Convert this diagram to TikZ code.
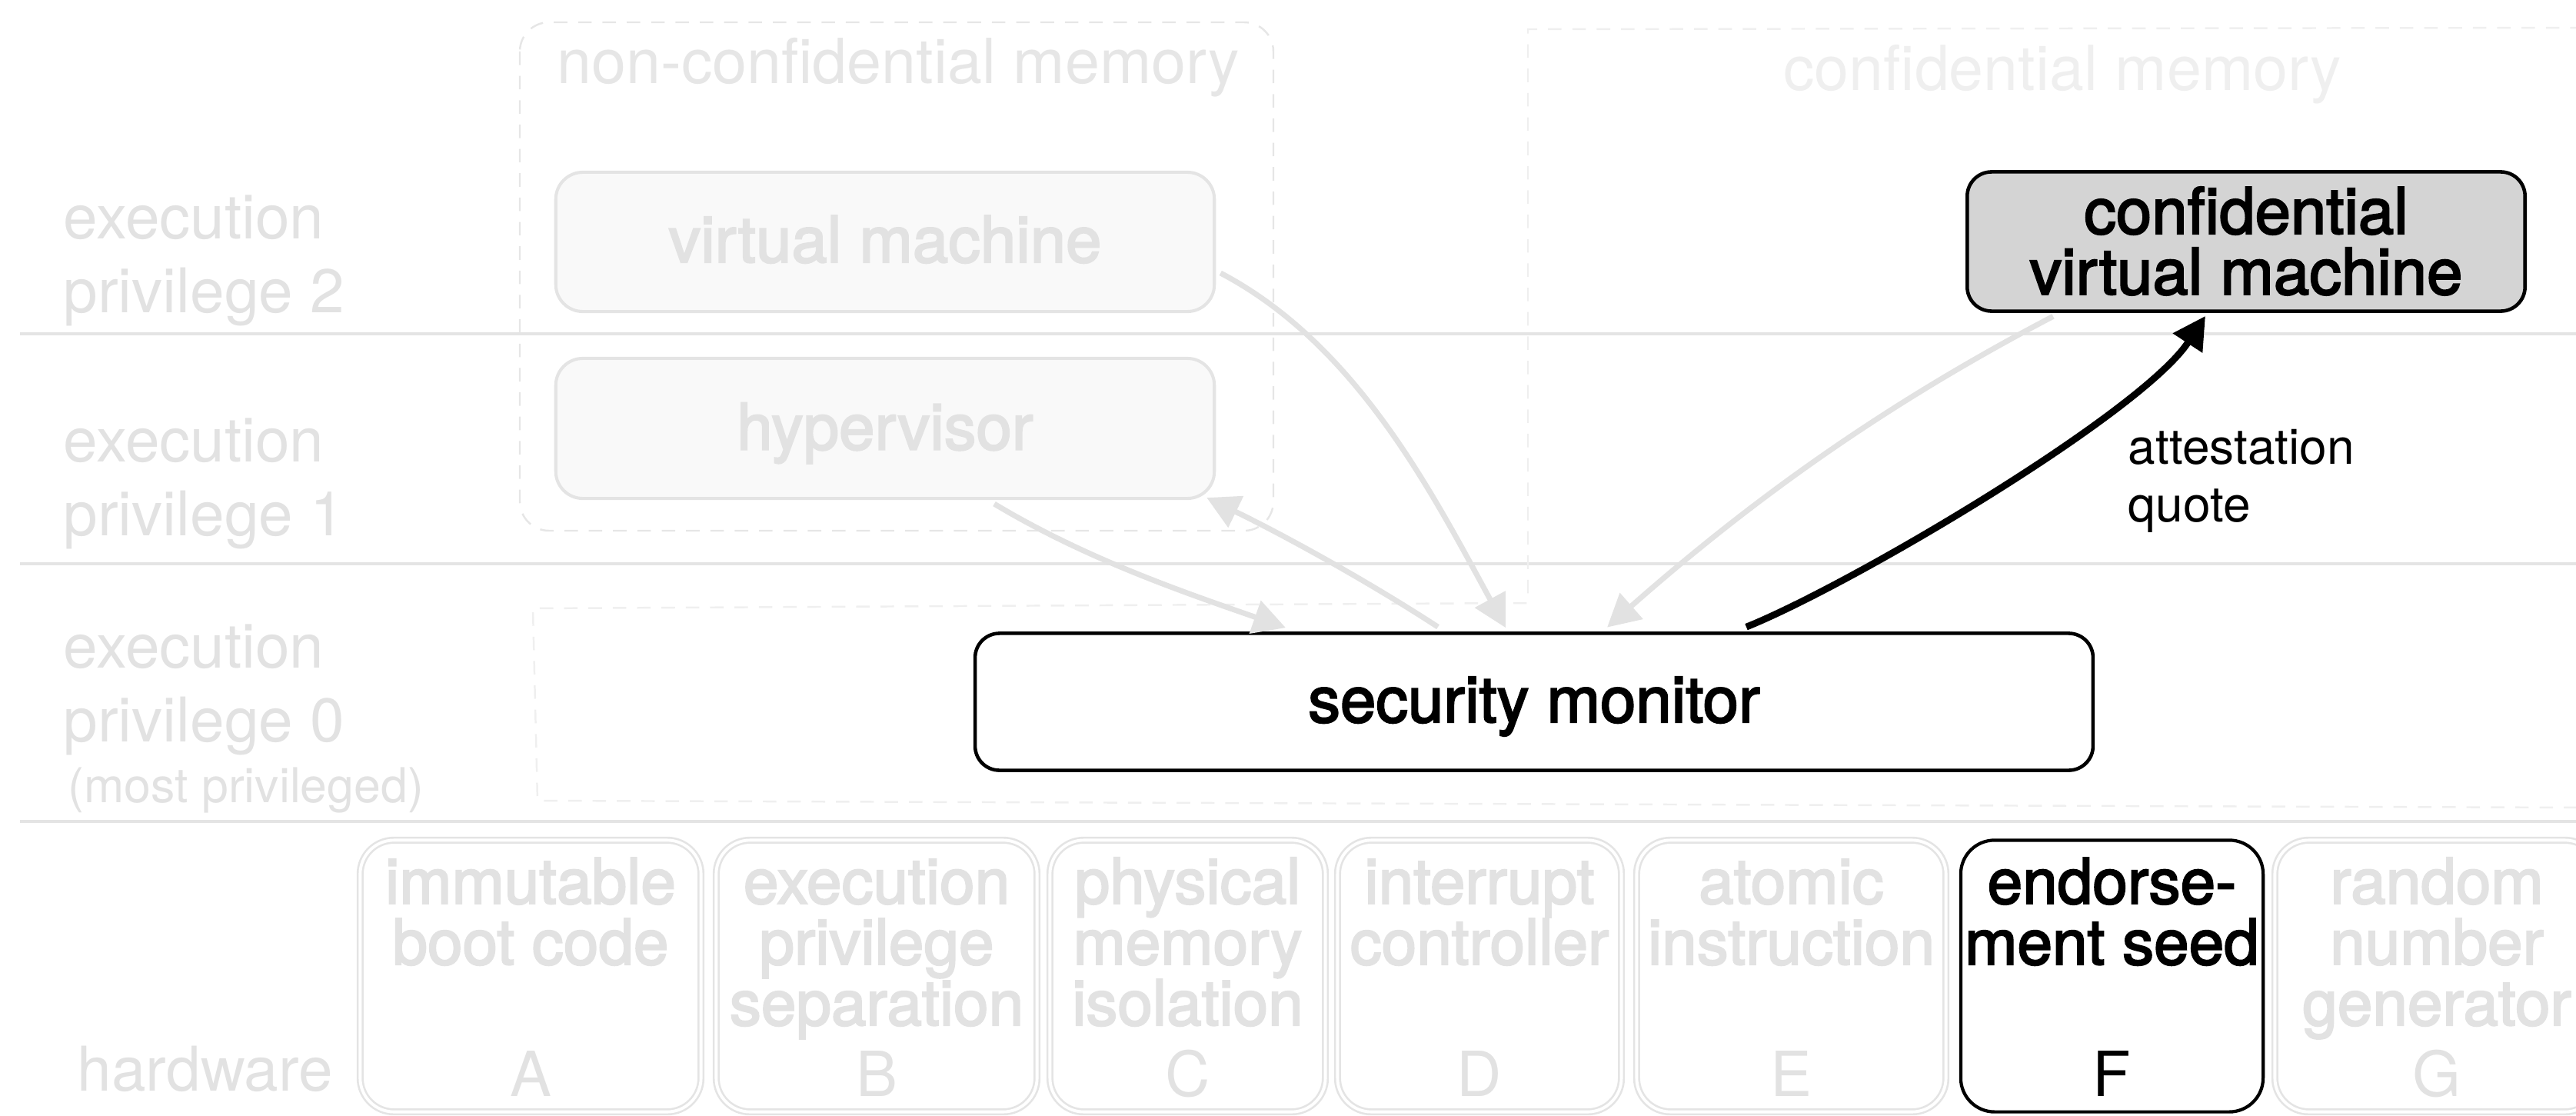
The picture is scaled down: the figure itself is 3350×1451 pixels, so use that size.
\documentclass[tikz,border=0pt]{standalone}
\usepackage{fontspec}
\setmainfont{TeX Gyre Heros}
\newfontfamily\medfont{TeX Gyre Heros}[FakeBold=2.6]
\usetikzlibrary{arrows.meta}

\definecolor{rulegray}{HTML}{E4E4E4}
\definecolor{textgray}{HTML}{E2E2E2}
\definecolor{palegray}{HTML}{EFEFEF}
\definecolor{dashgray}{HTML}{E6E6E6}
\definecolor{boxfill}{HTML}{F9F9F9}
\definecolor{cvmfill}{HTML}{D4D4D4}

\newcommand\sidefont{\fontsize{22.8}{27.3}\selectfont}
\newcommand\smallsidefont{\fontsize{17.8}{21.4}\selectfont}
\newcommand\regionfont{\fontsize{23}{27.6}\selectfont}
\newcommand\boxfont{\medfont\fontsize{23.7}{22.4}\selectfont\lineskiplimit=-100pt}
\newcommand\hwfont{\medfont\fontsize{23.3}{22.5}\selectfont\lineskiplimit=-100pt}
\newcommand\letterfont{\fontsize{23}{27.6}\selectfont}
\newcommand\notefont{\fontsize{18.2}{21.3}\selectfont\lineskiplimit=-100pt}

\tikzset{
  rulesep/.style={draw=rulegray, line width=1.4pt},
  memregion/.style={draw=dashgray, line width=0.7pt, dash pattern=on 5pt off 4pt},
  confregion/.style={draw=palegray, line width=0.7pt, dash pattern=on 5pt off 4pt},
  softbox/.style={draw=rulegray, fill=boxfill, line width=1.15pt, rounded corners=10pt, inner sep=0pt},
  keybox/.style={draw=black, line width=1.3pt, rounded corners=9pt, inner sep=0pt},
  hwbox/.style={draw=rulegray, double=white, double distance=1.1pt, line width=0.75pt,
                rounded corners=12.5pt, minimum height=3.53cm, inner sep=0pt},
  hwkey/.style={draw=black, line width=1.2pt, rounded corners=12.5pt,
                minimum height=3.53cm, inner sep=0pt},
  sidelabel/.style={text=textgray, font=\sidefont, align=left, anchor=base west, inner sep=0pt},
  softlabel/.style={text=textgray, font=\boxfont, align=center, anchor=base, inner sep=0pt},
  keylabel/.style={text=black, font=\boxfont, align=center, anchor=base, inner sep=0pt},
  hwlabel/.style={text=textgray, font=\hwfont, align=center, anchor=base, inner sep=0pt},
  hwkeylabel/.style={text=black, font=\hwfont, align=center, anchor=base, inner sep=0pt},
  hwletter/.style={text=textgray, font=\letterfont, anchor=base, inner sep=0pt},
  flow/.style={draw=textgray, line width=2pt, -{Triangle[length=12pt,width=12.5pt]}},
  keyflow/.style={draw=black, line width=2.5pt, -{Triangle[length=12pt,width=12.5pt]}},
}

\begin{document}
\begin{tikzpicture}[x=0.01cm, y=-0.01cm]
\path[use as bounding box, clip] (0,0) rectangle (3350,1451);

% privilege level separators
\draw[rulesep] (26,434) -- (3350,434);
\draw[rulesep] (26,733) -- (3350,733);
\draw[rulesep] (26,1068) -- (3350,1068);

% memory regions
\draw[memregion, rounded corners=10.8pt] (676,29) rectangle (1656,690);
\draw[confregion] (3360,36) -- (1987,38) -- (1987,784) -- (693,791) -- (699,1041) -- (3360,1050);
\node[text=dashgray, font=\regionfont, anchor=base, inner sep=0pt] (ncmlabel) at (1168,108) {non-confidential memory};
\node[text=palegray, font=\regionfont, anchor=base, inner sep=0pt] (cmlabel) at (2682,117) {confidential memory};

% privilege level names (base anchor = last line)
\node[sidelabel] (ep2) at (82,406) {execution\\privilege 2};
\node[sidelabel] (ep1) at (82,696) {execution\\privilege 1};
\node[sidelabel] (ep0) at (82,964.5) {execution\\privilege 0};
\node[sidelabel, font=\smallsidefont] (ep0note) at (88,1043) {(most privileged)};
\node[sidelabel] (hwname) at (100,1418) {hardware};

% software components
\node[softbox, minimum width=8.56cm, minimum height=1.81cm] (vm) at (1151,314.5) {};
\node[softlabel] (vmtext) at (1151,341) {virtual machine};
\node[softbox, minimum width=8.56cm, minimum height=1.82cm] (hv) at (1151,557) {};
\node[softlabel] (hvtext) at (1151,584.5) {hypervisor};
\node[keybox, fill=white, minimum width=14.53cm, minimum height=1.78cm] (sm) at (1995,912.5) {};
\node[keylabel] (smtext) at (1995,939) {security monitor};
\node[keybox, fill=cvmfill, minimum width=7.25cm, minimum height=1.81cm] (cvm) at (2921,314) {};
\node[keylabel] (cvmtext) at (2921,382.7) {confidential\\virtual machine};

% hardware features
\node[hwbox, minimum width=4.43cm] (hwA) at (690,1269) {};
\node[hwbox, minimum width=4.17cm] (hwB) at (1140,1269) {};
\node[hwbox, minimum width=3.58cm] (hwC) at (1544.5,1269) {};
\node[hwbox, minimum width=3.69cm] (hwD) at (1924,1269) {};
\node[hwbox, minimum width=4.02cm] (hwE) at (2329.5,1269) {};
\node[hwkey, minimum width=3.93cm] (hwF) at (2746.5,1269) {};
\node[hwbox, minimum width=4.21cm] (hwG) at (3169,1269) {};

\node[hwlabel] (hwAtext) at (690,1254) {immutable\\boot code};
\node[hwlabel] (hwBtext) at (1140,1333) {execution\\privilege\\separation};
\node[hwlabel] (hwCtext) at (1544.5,1333) {physical\\memory\\isolation};
\node[hwlabel] (hwDtext) at (1924,1254) {interrupt\\controller};
\node[hwlabel] (hwEtext) at (2329.5,1254) {atomic\\instruction};
\node[hwkeylabel] (hwFtext) at (2746.5,1254) {endorse-\\ment seed};
\node[hwlabel] (hwGtext) at (3169,1333) {random\\number\\generator};

\node[hwletter] (hwAletter) at (690,1425) {A};
\node[hwletter] (hwBletter) at (1140,1425) {B};
\node[hwletter] (hwCletter) at (1544.5,1425) {C};
\node[hwletter] (hwDletter) at (1924,1425) {D};
\node[hwletter] (hwEletter) at (2329.5,1425) {E};
\node[hwletter, text=black] (hwFletter) at (2746.5,1425) {F};
\node[hwletter] (hwGletter) at (3169,1425) {G};

% control transfers
\draw[flow] ([shift={(6,40.5)}]vm.east) .. controls +(177,93) and +(-96,-176) .. ([shift={(-37,-5)}]sm.north);
\draw[flow] ([shift={(142,5)}]hv.south) .. controls +(120,72) and +(-132,-46) .. ([shift={(-323,-5)}]sm.north);
\draw[flow] ([shift={(-125,-6)}]sm.north) .. controls +(-92,-60) and +(99,48) .. ([shift={(-12,-3)}]hv.south east);
\draw[flow] ([shift={(-251,4.5)}]cvm.south) .. controls +(-222,116) and +(187.5,-165) .. ([shift={(95,-5.5)}]sm.north);
\draw[keyflow] ([shift={(276,-6)}]sm.north) .. controls +(139,-56) and +(-82.4,125.6) .. ([shift={(-53,4)}]cvm.south);
\node[font=\notefont, align=left, anchor=base west, inner sep=0pt] (quote) at (2767,678) {attestation\\quote};
\end{tikzpicture}
\end{document}
